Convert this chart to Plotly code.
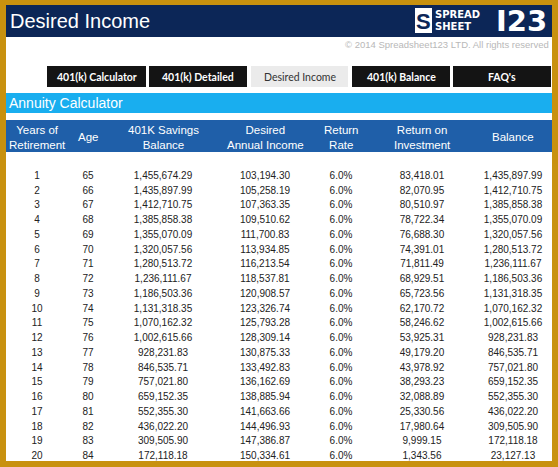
import plotly.graph_objects as go

# ---- data ----
years = list(range(1, 21))
ages = list(range(65, 85))
savings_balance = [1455674.29, 1435897.99, 1412710.75, 1385858.38, 1355070.09, 1320057.56,
                   1280513.72, 1236111.67, 1186503.36, 1131318.35, 1070162.32, 1002615.66,
                   928231.83, 846535.71, 757021.80, 659152.35, 552355.30, 436022.20,
                   309505.90, 172118.18]
desired_income = [103194.30, 105258.19, 107363.35, 109510.62, 111700.83, 113934.85,
                  116213.54, 118537.81, 120908.57, 123326.74, 125793.28, 128309.14,
                  130875.33, 133492.83, 136162.69, 138885.94, 141663.66, 144496.93,
                  147386.87, 150334.61]
return_rate = [0.06] * 20
return_on_investment = [83418.01, 82070.95, 80510.97, 78722.34, 76688.30, 74391.01,
                        71811.49, 68929.51, 65723.56, 62170.72, 58246.62, 53925.31,
                        49179.20, 43978.92, 38293.23, 32088.89, 25330.56, 17980.64,
                        9999.15, 1343.56]
balance = [1435897.99, 1412710.75, 1385858.38, 1355070.09, 1320057.56, 1280513.72,
           1236111.67, 1186503.36, 1131318.35, 1070162.32, 1002615.66, 928231.83,
           846535.71, 757021.80, 659152.35, 552355.30, 436022.20, 309505.90,
           172118.18, 23127.13]
column_titles = ["Years of<br>Retirement", "Age", "401K Savings<br>Balance",
                 "Desired<br>Annual Income", "Return<br>Rate", "Return on<br>Investment",
                 "Balance"]
tabs = ["401(k) Calculator", "401(k) Detailed", "Desired Income", "401(k) Balance", "FAQ's"]
active_tab = "Desired Income"
page_title = "Desired Income"
section_title = "Annuity Calculator"
copyright_text = "© 2014 Spreadsheet123 LTD. All rights reserved"

# ---- layout helpers ----
W, H = 558, 467
def px(x): return x / W
def py(y): return 1 - y / H

GOLD = "#C8910F"
NAVY = "#0C2657"
SKY = "#19AEEF"
HEADBLUE = "#1F5FA9"
TXT = "#222222"
CLEAR = "rgba(0,0,0,0)"
FONT = "Liberation Sans, Arial, sans-serif"
TABFONT = "Lato, Open Sans, sans-serif"

col_bounds = [6, 68, 108, 218, 312, 370, 474, 552]
col_widths = [col_bounds[i + 1] - col_bounds[i] for i in range(7)]
col_centers = [(col_bounds[i] + col_bounds[i + 1]) / 2 for i in range(7)]

def money(v): return f"{v:,.2f}"

cells = [
    [str(v) for v in years],
    [str(v) for v in ages],
    [money(v) for v in savings_balance],
    [money(v) for v in desired_income],
    [f"{v*100:.1f}%" for v in return_rate],
    [money(v) for v in return_on_investment],
    [money(v) for v in balance],
]

ROWH = 14.75
fig = go.Figure()
fig.add_trace(go.Table(
    domain=dict(x=[px(6), px(552)], y=[0, py(148.5)]),
    columnwidth=col_widths,
    header=dict(values=[""] * 7, height=ROWH, fill_color=CLEAR,
                line_color=CLEAR, font=dict(size=10, color=TXT, family=FONT)),
    cells=dict(values=cells, height=ROWH, fill_color=CLEAR, line_color=CLEAR,
               align="center", font=dict(size=10, color=TXT, family=FONT)),
))

shapes = []
annotations = []
# gold frame
shapes.append(dict(type="rect", xref="paper", yref="paper", x0=0, x1=1, y0=0, y1=1,
                   fillcolor=GOLD, line_width=0, layer="below"))
shapes.append(dict(type="rect", xref="paper", yref="paper", x0=px(6), x1=px(552),
                   y0=py(461), y1=py(5), fillcolor="white", line_width=0, layer="below"))
# navy title bar
shapes.append(dict(type="rect", xref="paper", yref="paper", x0=px(6), x1=px(552),
                   y0=py(37), y1=py(5), fillcolor=NAVY, line_width=0, layer="below"))
annotations.append(dict(text=page_title, xref="paper", yref="paper", x=px(8), y=py(21),
                        xanchor="left", yanchor="middle", showarrow=False,
                        font=dict(size=20, color="white", family=FONT)))
# logo
shapes.append(dict(type="rect", xref="paper", yref="paper", x0=px(415), x1=px(432),
                   y0=py(33), y1=py(8), fillcolor="white", line_width=0, layer="below"))
annotations.append(dict(text="<b>S</b>", xref="paper", yref="paper", x=px(423.5), y=py(21),
                        xanchor="center", yanchor="middle", showarrow=False,
                        font=dict(size=22, color=NAVY, family=FONT)))
annotations.append(dict(text="<b>SPREAD</b>", xref="paper", yref="paper", x=px(433), y=py(14.5),
                        xanchor="left", yanchor="middle", showarrow=False,
                        font=dict(size=10, color="white", family="DejaVu Sans")))
annotations.append(dict(text="<b>SHEET</b>", xref="paper", yref="paper", x=px(433), y=py(27),
                        xanchor="left", yanchor="middle", showarrow=False,
                        font=dict(size=10, color="white", family="DejaVu Sans")))
annotations.append(dict(text="<b>I23</b>", xref="paper", yref="paper", x=px(549), y=py(21),
                        xanchor="right", yanchor="middle", showarrow=False,
                        font=dict(size=29, color="white", family="DejaVu Sans")))
# copyright
annotations.append(dict(text=copyright_text, xref="paper", yref="paper", x=px(551), y=py(44),
                        xanchor="right", yanchor="middle", showarrow=False,
                        font=dict(size=9.5, color="#B8B8B8", family=FONT)))
# tabs
tab_x = [(47, 146), (149, 247), (251, 348), (352, 450), (453, 551)]
for name, (a, b) in zip(tabs, tab_x):
    act = name == active_tab
    shapes.append(dict(type="rect", xref="paper", yref="paper", x0=px(a), x1=px(b),
                       y0=py(87), y1=py(66), fillcolor="#EBEBEB" if act else "#141414",
                       line_width=0, layer="below"))
    annotations.append(dict(text=f"<b>{name}</b>" if not act else name, xref="paper",
                            yref="paper",
                            x=px((a + b) / 2), y=py(76.5), xanchor="center", yanchor="middle",
                            showarrow=False,
                            font=dict(size=10.5, color="#333333" if act else "white",
                                      family=TABFONT)))
# section bar
shapes.append(dict(type="rect", xref="paper", yref="paper", x0=px(6), x1=px(552),
                   y0=py(113), y1=py(93), fillcolor=SKY, line_width=0, layer="below"))
annotations.append(dict(text=section_title, xref="paper", yref="paper", x=px(7), y=py(103),
                        xanchor="left", yanchor="middle", showarrow=False,
                        font=dict(size=14, color="white", family=FONT)))
# column header band
shapes.append(dict(type="rect", xref="paper", yref="paper", x0=px(6), x1=px(552),
                   y0=py(152), y1=py(120), fillcolor=HEADBLUE, line_width=0, layer="below"))
for i, t in enumerate(column_titles):
    annotations.append(dict(text=t, xref="paper", yref="paper", x=px(col_centers[i]),
                            y=py(137), xanchor="center", yanchor="middle", showarrow=False,
                            font=dict(size=11.5, color="white", family=FONT)))

fig.update_layout(width=W, height=H, margin=dict(l=0, r=0, t=0, b=0),
                  paper_bgcolor="white", plot_bgcolor="white",
                  shapes=shapes, annotations=annotations,
                  xaxis=dict(visible=False), yaxis=dict(visible=False), showlegend=False)
fig.write_html("out.html", config={"displayModeBar": False},
               post_script="document.body.style.margin='0';document.body.style.overflow='hidden';")
